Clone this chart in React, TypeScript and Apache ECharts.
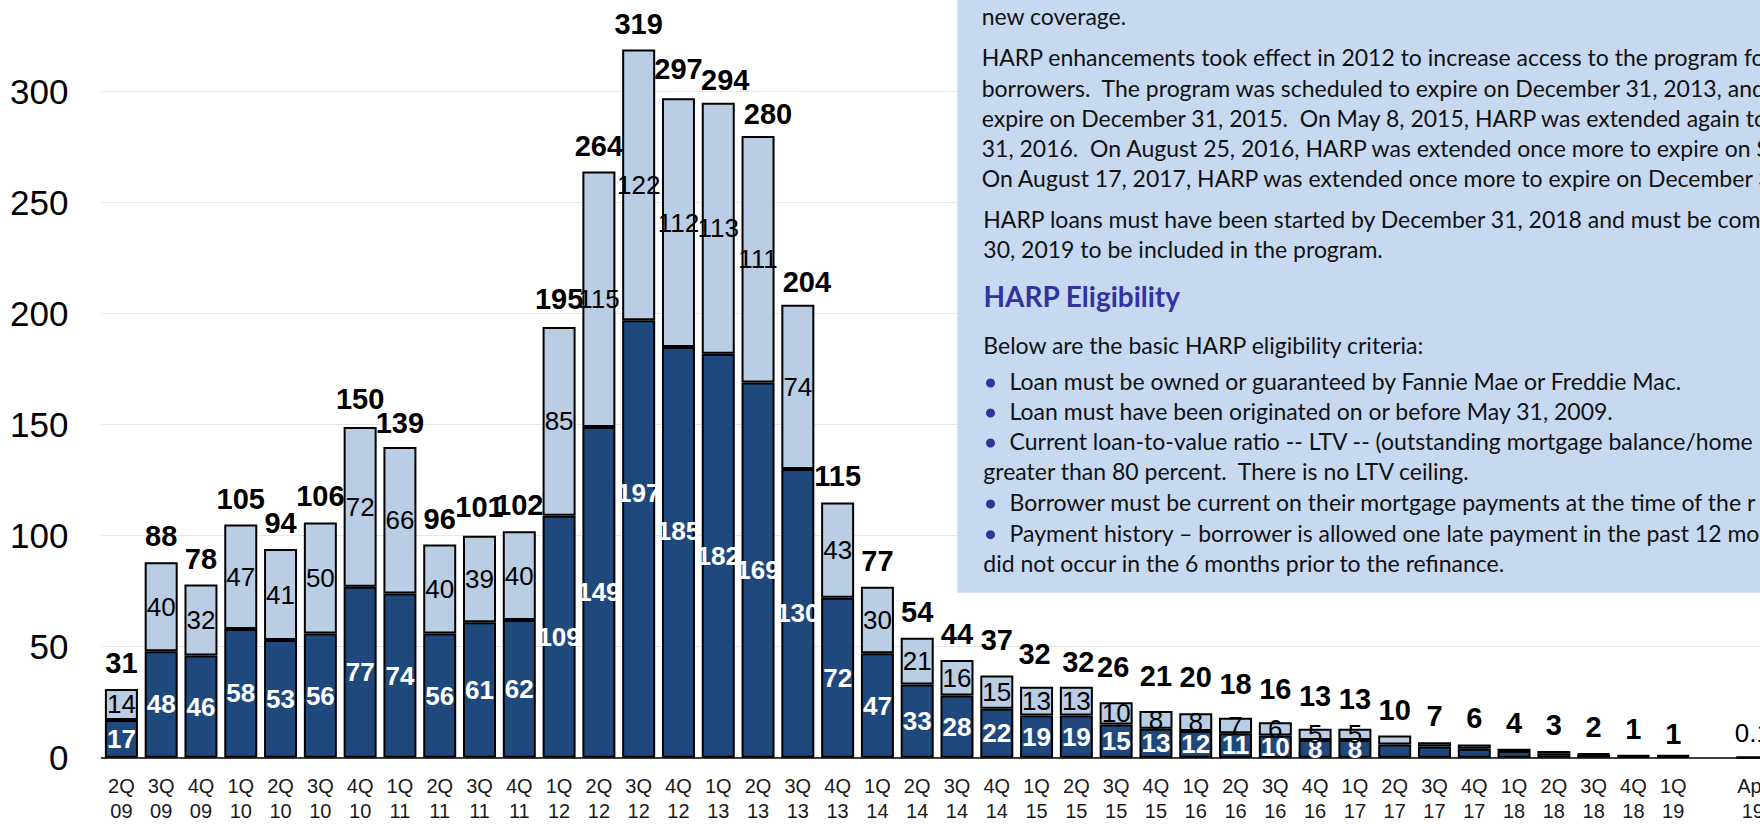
import React, { useEffect, useRef } from "react";
import * as echarts from "echarts";

// ---------- data ----------
const categories = [
  "2Q\n09", "3Q\n09", "4Q\n09",
  "1Q\n10", "2Q\n10", "3Q\n10", "4Q\n10",
  "1Q\n11", "2Q\n11", "3Q\n11", "4Q\n11",
  "1Q\n12", "2Q\n12", "3Q\n12", "4Q\n12",
  "1Q\n13", "2Q\n13", "3Q\n13", "4Q\n13",
  "1Q\n14", "2Q\n14", "3Q\n14", "4Q\n14",
  "1Q\n15", "2Q\n15", "3Q\n15", "4Q\n15",
  "1Q\n16", "2Q\n16", "3Q\n16", "4Q\n16",
  "1Q\n17", "2Q\n17", "3Q\n17", "4Q\n17",
  "1Q\n18", "2Q\n18", "3Q\n18", "4Q\n18",
  "1Q\n19", "", "Apr\n19",
];
const darkValues = [
  17, 48, 46, 58, 53, 56, 77, 74, 56, 61, 62, 109, 149, 197, 185, 182, 169, 130, 72, 47, 33,
  28, 22, 19, 19, 15, 13, 12, 11, 10, 8, 8, 6, 5, 4, 3, 2, 1.4, 0.7, 0.7, null, 0.07,
];
const lightValues = [
  14, 40, 32, 47, 41, 50, 72, 66, 40, 39, 40, 85, 115, 122, 112, 113, 111, 74, 43, 30, 21,
  16, 15, 13, 13, 10, 8, 8, 7, 6, 5, 5, 4, 2, 2, 1, 1, 0.6, 0.3, 0.3, null, 0.03,
];
const totals = [
  31, 88, 78, 105, 94, 106, 150, 139, 96, 101, 102, 195, 264, 319, 297, 294, 280, 204, 115, 77, 54,
  44, 37, 32, 32, 26, 21, 20, 18, 16, 13, 13, 10, 7, 6, 4, 3, 2, 1, 1, null, 0.1,
];
const yTickMax = 350;
const yTickStep = 50;
const provisionalCategory = "Apr\n19";

// text panel content
const panelParagraphs = [
  { text: "new coverage.", kind: "body" },
  { text: "HARP enhancements took effect in 2012 to increase access to the program fo", kind: "body" },
  { text: "borrowers.  The program was scheduled to expire on December 31, 2013, and", kind: "body" },
  { text: "expire on December 31, 2015.  On May 8, 2015, HARP was extended again to", kind: "body" },
  { text: "31, 2016.  On August 25, 2016, HARP was extended once more to expire on S", kind: "body" },
  { text: "On August 17, 2017, HARP was extended once more to expire on December 3", kind: "body" },
  { text: "HARP loans must have been started by December 31, 2018 and must be com", kind: "body" },
  { text: "30, 2019 to be included in the program.", kind: "body" },
  { text: "HARP Eligibility", kind: "head" },
  { text: "Below are the basic HARP eligibility criteria:", kind: "body" },
  { text: "Loan must be owned or guaranteed by Fannie Mae or Freddie Mac.", kind: "bullet" },
  { text: "Loan must have been originated on or before May 31, 2009.", kind: "bullet" },
  { text: "Current loan-to-value ratio -- LTV -- (outstanding mortgage balance/home", kind: "bullet" },
  { text: "greater than 80 percent.  There is no LTV ceiling.", kind: "body" },
  { text: "Borrower must be current on their mortgage payments at the time of the r", kind: "bullet" },
  { text: "Payment history \u2013 borrower is allowed one late payment in the past 12 mo", kind: "bullet" },
  { text: "did not occur in the 6 months prior to the refinance.", kind: "body" },
];
// baselines of the panel lines (page px)
const panelBaselines = [25, 66, 96.7, 126.7, 156.7, 186.7, 227.7, 257.7, 307, 354, 390, 420, 450, 480, 511, 541.7, 571.7];

// ---------- styling / layout ----------
const NUM_FONT = '"Liberation Sans", Arial, Helvetica, sans-serif';
const BODY_FONT = 'Lato, "Open Sans", "Noto Sans", sans-serif';
const DARK = "#1F497D";
const LIGHT = "#B9CDE5";
const PANEL = "#C6D9F1";
const HEAD = "#3333A0";
const SHIFT_Y = 60; // chart div sits 60px above the page top

const darkLabelShift: Record<string, number> = { "3Q\n12": -46, "4Q\n12": -21 };
const totalLabelShift: Record<string, [number, number]> = {
  "4Q\n12": [0, -3],
  "1Q\n13": [7, 1],
  "2Q\n13": [10, 4],
  "3Q\n13": [9, 3],
  "4Q\n14": [0, -10],
  "1Q\n15": [-2, -7],
  "2Q\n15": [2, 1],
  "3Q\n15": [-3, -7],
  "4Q\n15": [0, -9],
  "1Q\n16": [0, -10],
  "2Q\n16": [0, -8],
  "3Q\n16": [0, -7],
  "4Q\n16": [0, -7],
  "1Q\n17": [0, -4],
  "1Q\n19": [0, 5],
};

export default function App() {
  const ref = useRef<HTMLDivElement>(null);

  useEffect(() => {
    if (!ref.current) return;
    const chart = echarts.init(ref.current, undefined, { renderer: "svg" });

    const labelled = (i: number) => totals[i] != null && (totals[i] as number) >= 13;

    const darkData = darkValues.map((v, i) => ({
      value: v,
      label: { show: labelled(i), offset: [0, darkLabelShift[categories[i]] || 0] },
    }));
    const lightData = lightValues.map((v, i) => ({
      value: v,
      label: { show: labelled(i) },
    }));
    const totalData = totals.map((v, i) => {
      const sh = totalLabelShift[categories[i]] || [0, 0];
      const provisional = categories[i] === provisionalCategory;
      return {
        value: v,
        label: {
          offset: sh,
          fontWeight: provisional ? "normal" : "bold",
          fontSize: provisional ? 26 : 29,
        },
      };
    });

    const C = 0.387; // central-baseline ratio for body font
    const graphics: any[] = [
      {
        type: "rect",
        z: 100,
        shape: { x: 957.3, y: 0, width: 900, height: 592.7 + SHIFT_Y },
        style: { fill: PANEL },
      },
    ];
    panelParagraphs.forEach((p, i) => {
      const base = panelBaselines[i] + SHIFT_Y;
      if (p.kind === "head") {
        const fs = 28;
        graphics.push({
          type: "text",
          z: 101,
          x: 983.4,
          y: base - C * fs,
          style: {
            text: p.text,
            font: `bold ${fs}px ${BODY_FONT}`,
            fill: HEAD,
            textAlign: "left",
            textVerticalAlign: "middle",
          },
        });
        return;
      }
      const fs = 23;
      const x = p.kind === "bullet" ? 1009.6 : i <= 5 ? 981.7 : 983.3;
      if (p.kind === "bullet") {
        graphics.push({
          type: "circle",
          z: 101,
          shape: { cx: 990.5, cy: base - 7, r: 4.5 },
          style: { fill: HEAD },
        });
      }
      graphics.push({
        type: "text",
        z: 101,
        x,
        y: base - C * fs,
        style: {
          text: p.text,
          font: `${fs}px ${BODY_FONT}`,
          fill: "#111",
          textAlign: "left",
          textVerticalAlign: "middle",
        },
      });
    });

    const option: any = {
      animation: false,
      backgroundColor: "#ffffff",
      grid: { left: 101.5, top: 40.7, width: 1671.2, height: 777, containLabel: false },
      xAxis: {
        type: "category",
        data: categories,
        axisTick: { show: false },
        axisLine: { show: true, lineStyle: { color: "#000", width: 1.5 } },
        axisLabel: {
          interval: 0,
          margin: 16,
          fontSize: 20,
          lineHeight: 25,
          color: "#1a1a1a",
          fontFamily: NUM_FONT,
        },
        splitLine: { show: false },
      },
      yAxis: {
        type: "value",
        min: 0,
        max: yTickMax,
        interval: yTickStep,
        axisLine: { show: false },
        axisTick: { show: false },
        axisLabel: {
          fontSize: 35,
          color: "#000",
          margin: 33,
          fontFamily: NUM_FONT,
          showMaxLabel: false,
        },
        splitLine: { show: true, lineStyle: { color: "#E6E6E6", width: 1.2 } },
      },
      series: [
        {
          name: "dark",
          type: "bar",
          stack: "total",
          barWidth: 33,
          data: darkData,
          itemStyle: { color: DARK, borderColor: "#000", borderWidth: 2 },
          label: {
            show: true,
            position: "inside",
            color: "#fff",
            fontWeight: "bold",
            fontSize: 26,
            fontFamily: NUM_FONT,
          },
        },
        {
          name: "light",
          type: "bar",
          stack: "total",
          barWidth: 33,
          data: lightData,
          itemStyle: { color: LIGHT, borderColor: "#000", borderWidth: 2 },
          label: {
            show: true,
            position: "inside",
            color: "#000",
            fontSize: 26,
            fontFamily: NUM_FONT,
          },
        },
        {
          name: "total",
          type: "scatter",
          data: totalData,
          symbol: "circle",
          symbolSize: 1,
          itemStyle: { color: "rgba(0,0,0,0)" },
          z: 5,
          label: {
            show: true,
            position: "top",
            distance: 11,
            color: "#000",
            opacity: 1,
            fontFamily: NUM_FONT,
            formatter: (p: any) => String(p.value),
          },
        },
      ],
      graphic: { elements: graphics },
    };

    chart.setOption(option);
    return () => chart.dispose();
  }, []);

  return (
    <div
      style={{
        position: "fixed",
        left: 0,
        top: 0,
        width: 1760,
        height: 824,
        overflow: "hidden",
        background: "#fff",
      }}
    >
      <div
        ref={ref}
        style={{ position: "absolute", left: 0, top: -SHIFT_Y, width: 1800, height: 900 }}
      />
    </div>
  );
}
